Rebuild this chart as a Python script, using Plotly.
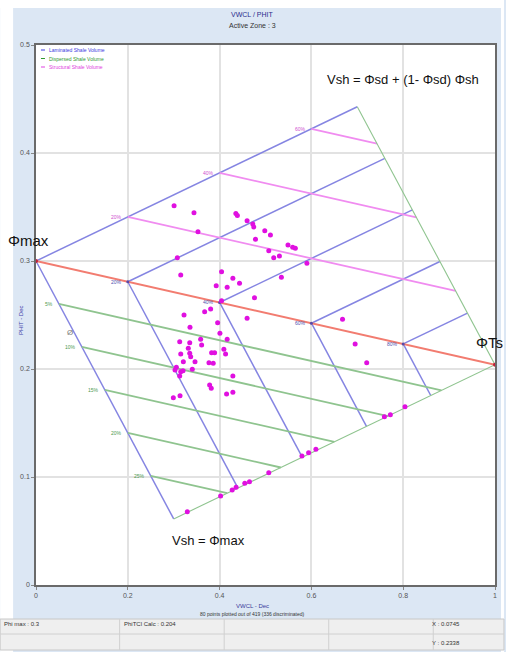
import plotly.graph_objects as go

# ---------------- data ----------------
PHI_MAX = 0.3          # clean-sand max porosity
PHI_SH = 0.204         # shale total porosity (PhiTCl Calc)
LAM_LEVELS = [0.0, 0.2, 0.4, 0.6, 0.8]          # laminated shale fractions
LAM_LABELS = ["", "20%", "40%", "60%", "80%"]
DISP_LEVELS = [0.05, 0.10, 0.15, 0.20, 0.25]    # dispersed shale volumes
DISP_LABELS = ["5%", "10%", "15%", "20%", "25%"]
STRUCT_LEVELS = [0.2, 0.4, 0.6]                 # structural shale volumes
STRUCT_LABELS = ["20%", "40%", "60%"]

X_TICKS = [0, 0.2, 0.4, 0.6, 0.8, 1]
X_TICK_TEXT = ["0", "0.2", "0.4", "0.6", "0.8", "1"]
Y_TICKS = [0, 0.1, 0.2, 0.3, 0.4, 0.5]
Y_TICK_TEXT = ["0", "0.1", "0.2", "0.3", "0.4", "0.5"]

VWCL = [0.3008, 0.3442, 0.4354, 0.4387, 0.4599, 0.4723, 0.4745, 0.4984, 0.5107, 0.3529,
        0.4782, 0.3079, 0.5071, 0.5179, 0.3153, 0.4043, 0.4289, 0.4434, 0.3926, 0.4165,
        0.4760, 0.4043, 0.5490, 0.5592, 0.5650, 0.5303, 0.5902, 0.5346, 0.3225, 0.3674,
        0.3805, 0.4599, 0.3957, 0.3355, 0.4007, 0.4165, 0.3131, 0.3349, 0.3587, 0.3609,
        0.3318, 0.3349, 0.3153, 0.4093, 0.4130, 0.3826, 0.3891, 0.3370, 0.3210, 0.3464,
        0.3768, 0.3861, 0.3058, 0.3029, 0.3153, 0.3203, 0.3131, 0.3405, 0.4289, 0.3783,
        0.3818, 0.2992, 0.3138, 0.4152, 0.4289, 0.6678, 0.6953, 0.7205, 0.8039, 0.7590,
        0.7720, 0.3296, 0.4022, 0.4274, 0.4360, 0.4549, 0.4651, 0.5071, 0.5794, 0.5939,
        0.6098]
PHIT = [0.3512, 0.3447, 0.3440, 0.3421, 0.3373, 0.3343, 0.3315, 0.3281, 0.3241, 0.3271,
        0.3201, 0.3031, 0.3095, 0.3031, 0.2870, 0.2901, 0.2840, 0.2793, 0.2771, 0.2756,
        0.2660, 0.2632, 0.3148, 0.3127, 0.3118, 0.3046, 0.2979, 0.2849, 0.2500, 0.2531,
        0.2556, 0.2469, 0.2429, 0.2386, 0.2331, 0.2275, 0.2253, 0.2244, 0.2275, 0.2222,
        0.2192, 0.2145, 0.2139, 0.2182, 0.2139, 0.2151, 0.2151, 0.2114, 0.2068, 0.2068,
        0.2058, 0.2053, 0.2016, 0.1991, 0.1975, 0.1984, 0.1935, 0.1997, 0.1935, 0.1852,
        0.1821, 0.1734, 0.1753, 0.1769, 0.1784, 0.2460, 0.2231, 0.2058, 0.1651, 0.1558,
        0.1577, 0.0679, 0.0824, 0.0880, 0.0905, 0.0942, 0.0956, 0.1040, 0.1194, 0.1225,
        0.1256]

# ---------------- geometry from parameters ----------------
A = (0.0, PHI_MAX)
C = (1.0, PHI_SH)
B = (PHI_MAX, PHI_MAX * PHI_SH)
D = (1.0 - PHI_MAX, PHI_MAX + (1.0 - PHI_MAX) * PHI_SH)


def add(p, q, k=1.0):
    return (p[0] + k * q[0], p[1] + k * q[1])


def sub(p, q):
    return (p[0] - q[0], p[1] - q[1])


AC, AB, AD = sub(C, A), sub(B, A), sub(D, A)

BLUE = "#8585e2"
GREEN = "#8fc48f"
MAG = "#f08cf0"
RED = "#f27c70"

fig = go.Figure()


def seg_trace(segs, color, width):
    xs, ys = [], []
    for p, q in segs:
        xs += [p[0], q[0], None]
        ys += [p[1], q[1], None]
    fig.add_trace(go.Scatter(x=xs, y=ys, mode="lines", line=dict(color=color, width=width),
                             showlegend=False, hoverinfo="skip"))


# laminated lines (blue)
lam_segs, lam_nodes = [], []
for t in LAM_LEVELS:
    P = add(A, AC, t)
    lam_nodes.append(P)
    lam_segs.append((P, add(P, AD, 1 - t)))
    lam_segs.append((P, add(P, AB, 1 - t)))
seg_trace(lam_segs, BLUE, 1.5)

# dispersed lines (green)
disp_starts, disp_segs = [], []
for v in DISP_LEVELS:
    s = v / PHI_MAX
    S = add(A, AB, s)
    disp_starts.append(S)
    disp_segs.append((S, add(S, AC, 1 - s)))
seg_trace(disp_segs, GREEN, 1.8)

# structural lines (magenta)
str_starts, str_segs = [], []
for v in STRUCT_LEVELS:
    s = v / (1 - PHI_MAX)
    S = add(A, AD, s)
    str_starts.append(S)
    str_segs.append((S, add(S, AC, 1 - s)))
seg_trace(str_segs, MAG, 1.8)

# outer right edges (green, thin)
seg_trace([(D, C), (B, C)], GREEN, 1.1)
# laminated diagonal (red)
seg_trace([(A, C)], RED, 2)

# vertex markers
fig.add_trace(go.Scatter(x=[A[0], C[0]], y=[A[1], C[1]], mode="markers",
                         marker=dict(color="#c0203a", size=4), showlegend=False, hoverinfo="skip"))
fig.add_trace(go.Scatter(x=[p[0] for p in lam_nodes[1:]], y=[p[1] for p in lam_nodes[1:]],
                         mode="markers", marker=dict(color="#5a4aa8", size=3),
                         showlegend=False, hoverinfo="skip"))

# data points
fig.add_trace(go.Scatter(x=VWCL, y=PHIT, mode="markers",
                         marker=dict(color="#e010e0", size=5), showlegend=False))

# ---------------- layout helpers (page pixel coords) ----------------
W, H = 506, 652
L, R, T, Bm = 36, 9, 45, 67
PW, PH = W - L - R, H - T - Bm


def px(xp):
    return (xp - L) / PW


def py(yp):
    return (H - Bm - yp) / PH


shapes = []
# white outer strips and status bar
shapes.append(dict(type="rect", xref="paper", yref="paper", x0=px(0), x1=px(13), y0=py(652), y1=py(0),
                   fillcolor="white", line=dict(width=0), layer="below"))
shapes.append(dict(type="rect", xref="paper", yref="paper", x0=px(0), x1=px(506), y0=py(8), y1=py(0),
                   fillcolor="white", line=dict(width=0), layer="below"))
shapes.append(dict(type="rect", xref="paper", yref="paper", x0=px(503), x1=px(506), y0=py(652), y1=py(0),
                   fillcolor="white", line=dict(width=0), layer="below"))
shapes.append(dict(type="rect", xref="paper", yref="paper", x0=px(0), x1=px(506), y0=py(650), y1=py(619),
                   fillcolor="#efefef", line=dict(color="#c8c8c8", width=1), layer="below"))
shapes.append(dict(type="line", xref="paper", yref="paper", x0=px(0), x1=px(506), y0=py(634), y1=py(634),
                   line=dict(color="#d0d0d0", width=1), layer="below"))
for xv in [120, 225, 330, 435]:
    shapes.append(dict(type="line", xref="paper", yref="paper", x0=px(xv), x1=px(xv), y0=py(650), y1=py(619),
                       line=dict(color="#d0d0d0", width=1), layer="below"))

SMALL = "Liberation Sans"
BIG = "Liberation Sans, Arial, sans-serif"

# legend swatches
LEG = [("Laminated Shale Volume", "#3a3ae0"), ("Dispersed Shale Volume", "#2f9a2f"),
       ("Structural Shale Volume", "#e040e0")]
annotations = []
for i, (name, col) in enumerate(LEG):
    yy = 50 + i * 8.5
    shapes.append(dict(type="line", xref="paper", yref="paper", x0=px(41), x1=px(45), y0=py(yy), y1=py(yy),
                       line=dict(color=col, width=1)))
    annotations.append(dict(xref="paper", yref="paper", x=px(47), y=py(yy), text=name, showarrow=False,
                            xanchor="left", yanchor="middle",
                            font=dict(size=5, color=col, family=SMALL)))


def ann(x, y, text, size, color="#222", family=SMALL, **kw):
    d = dict(xref="paper", yref="paper", x=px(x), y=py(y), text=text, showarrow=False,
             xanchor="center", yanchor="middle",
             font=dict(size=size, color=color, family=family))
    d.update(kw)
    annotations.append(d)


ann(253, 14, "VWCL / PHIT", 7, "#2b2b8c")
ann(253, 25, "Active Zone : 3", 7, "#333")
ann(21, 320, "PHIT - Dec", 6, "#4040a8", textangle=-90)
ann(253, 606, "VWCL - Dec", 6, "#3a3a9a")
ann(253, 614, "80 points plotted out of 419 (336 discriminated)", 5, "#333")
ann(2, 624, "Phi max : 0.3", 6, "#333", xanchor="left")
ann(122, 624, "PhiTCl Calc : 0.204", 6, "#333", xanchor="left")
ann(432, 624, "X : 0.0745", 6, "#333", xanchor="left")
ann(432, 643, "Y : 0.2338", 6, "#333", xanchor="left")

ann(28, 240, "Φmax", 15, "#111", BIG)
ann(491, 342, "ΦTs", 15, "#111", BIG)
ann(405, 80, "Vsh = Φsd + (1- Φsd) Φsh", 13, "#111", BIG)
ann(209, 540, "Vsh = Φmax", 13, "#111", BIG)
ann(70, 332, "Ø", 8, "#777")

# grid-line labels in data coords
for P, lab in zip(lam_nodes, LAM_LABELS):
    if lab:
        annotations.append(dict(x=P[0] - 0.008, y=P[1], xref="x", yref="y", text=lab, showarrow=False,
                                xanchor="right", yanchor="middle",
                                font=dict(size=5, color="#5050b0", family=SMALL)))
for P, lab in zip(disp_starts, DISP_LABELS):
    annotations.append(dict(x=P[0] - 0.008, y=P[1], xref="x", yref="y", text=lab, showarrow=False,
                            xanchor="right", yanchor="middle",
                            font=dict(size=5, color="#4f9a4f", family=SMALL)))
for P, lab in zip(str_starts, STRUCT_LABELS):
    annotations.append(dict(x=P[0] - 0.008, y=P[1], xref="x", yref="y", text=lab, showarrow=False,
                            xanchor="right", yanchor="middle",
                            font=dict(size=5, color="#d050d0", family=SMALL)))

fig.update_layout(
    width=W, height=H,
    margin=dict(l=L, r=R, t=T, b=Bm, pad=0),
    paper_bgcolor="#dce7f4",
    plot_bgcolor="white",
    showlegend=False,
    shapes=shapes,
    annotations=annotations,
    xaxis=dict(range=[0, 1], tickvals=X_TICKS, ticktext=X_TICK_TEXT, showgrid=True,
               gridcolor="#e2e2e2", gridwidth=1.5, zeroline=False, showline=True, linecolor="#6a6a6a",
               linewidth=1.5, mirror=True, ticks="outside", ticklen=3, tickcolor="#888",
               tickfont=dict(size=7, color="#555", family=SMALL)),
    yaxis=dict(range=[0, 0.5], tickvals=Y_TICKS, ticktext=Y_TICK_TEXT, showgrid=True,
               gridcolor="#e2e2e2", gridwidth=1.5, zeroline=False, showline=True, linecolor="#6a6a6a",
               linewidth=1.5, mirror=True, ticks="outside", ticklen=3, tickcolor="#888",
               tickfont=dict(size=7, color="#555", family=SMALL)),
)

fig.write_html("out.html",
               config={"displayModeBar": False},
               post_script="document.body.style.margin='0px';document.body.style.overflow='hidden';")
